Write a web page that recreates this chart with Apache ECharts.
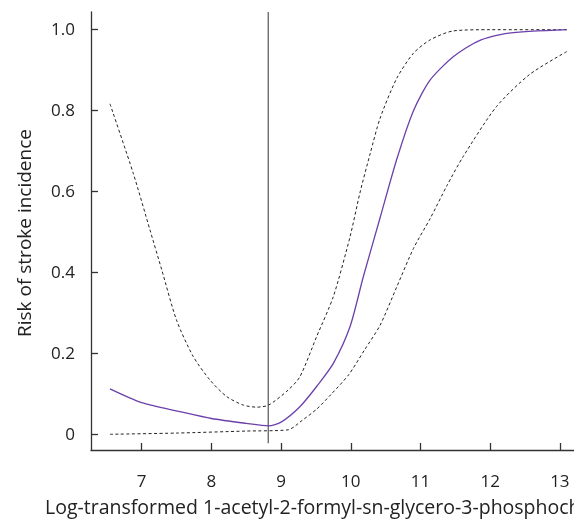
<!DOCTYPE html>
<html>
<head>
<meta charset="utf-8">
<script src="https://cdn.jsdelivr.net/npm/echarts@6/dist/echarts.min.js"></script>
<style>html,body{margin:0;padding:0;background:#fff}#c{width:574px;height:526px}</style>
</head>
<body>
<div id="c"></div>
<script>
// ---- data ----
const xTicks = [7, 8, 9, 10, 11, 12, 13];
const yTicks = [0, 0.2, 0.4, 0.6, 0.8, 1.0];
const riskEstimate = [[6.545,0.113],[7.0,0.079],[7.55,0.057],[8.0,0.040],[8.5,0.028],[8.82,0.022],[9.0,0.031],[9.27,0.069],[9.51,0.119],[9.75,0.176],[9.99,0.267],[10.18,0.39],[10.42,0.535],[10.66,0.68],[10.90,0.800],[11.14,0.876],[11.47,0.933],[11.83,0.972],[12.24,0.991],[13.1,1.0]];
const upperCI = [[6.545,0.817],[6.88,0.645],[7.12,0.505],[7.29,0.406],[7.50,0.283],[7.74,0.193],[7.98,0.135],[8.22,0.094],[8.46,0.073],[8.65,0.068],[8.82,0.073],[9.10,0.110],[9.27,0.143],[9.51,0.242],[9.75,0.341],[9.99,0.489],[10.13,0.596],[10.28,0.695],[10.42,0.781],[10.66,0.88],[10.90,0.942],[11.14,0.975],[11.47,0.997],[12.0,1.0],[13.1,1.0]];
const lowerCI = [[6.545,0.001],[7.5,0.004],[8.5,0.009],[9.1,0.012],[9.3,0.035],[9.51,0.063],[9.72,0.100],[9.97,0.148],[10.2,0.21],[10.42,0.27],[10.66,0.365],[10.90,0.460],[11.14,0.534],[11.38,0.615],[11.61,0.686],[12.09,0.81],[12.57,0.890],[13.1,0.946]];
const refX = 8.816;
const refLine = [[refX,-0.021],[refX,1.0437]];
const xTitle = 'Log-transformed 1-acetyl-2-formyl-sn-glycero-3-phosphocholine';
const yTitle = 'Risk of stroke incidence';

const FONT = '"Open Sans", "Noto Sans", sans-serif';
const chart = echarts.init(document.getElementById('c'), null, {renderer:'canvas'});
const dashStyle = {color:'#222', width:1, type:[3,2.5]};
chart.setOption({
  animation:false,
  backgroundColor:'#fff',
  grid:{left:91, top:12, bottom:76, right:0, containLabel:false},
  xAxis:{
    type:'value', min:6.273, max:13.203,
    axisLine:{show:true, onZero:false, lineStyle:{color:'#333', width:1.3}},
    axisTick:{show:true, inside:true, length:7, lineStyle:{color:'#333', width:1.3}, customValues:xTicks},
    axisLabel:{customValues:xTicks, margin:24, color:'#222', fontSize:17, fontFamily:FONT},
    splitLine:{show:false}
  },
  yAxis:{
    type:'value', min:-0.0378, max:1.0437,
    axisLine:{show:true, onZero:false, lineStyle:{color:'#333', width:1.3}},
    axisTick:{show:true, inside:true, length:7, lineStyle:{color:'#333', width:1.3}, customValues:yTicks},
    axisLabel:{customValues:yTicks, margin:16, color:'#222', fontSize:17, fontFamily:FONT,
      formatter:v=> Math.abs(v)<1e-9 ? '0' : v.toFixed(1)},
    splitLine:{show:false}
  },
  graphic:[
    {type:'text', left:45, top:498, style:{text:xTitle, font:'19.5px '+FONT, fill:'#222'}},
    {type:'text', x:26, y:233, rotation:Math.PI/2, style:{text:yTitle, font:'19px '+FONT, fill:'#222', align:'center', verticalAlign:'middle'}}
  ],
  series:[
    {type:'line', data:refLine, symbol:'none', lineStyle:{color:'#555', width:1.2}},
    {type:'line', data:upperCI, symbol:'none', smooth:0.25, lineStyle:dashStyle},
    {type:'line', data:lowerCI, symbol:'none', smooth:0.25, lineStyle:dashStyle},
    {type:'line', data:riskEstimate, symbol:'none', smooth:0.25, lineStyle:{color:'#6b40aa', width:1.3}}
  ]
});
</script>
</body>
</html>
